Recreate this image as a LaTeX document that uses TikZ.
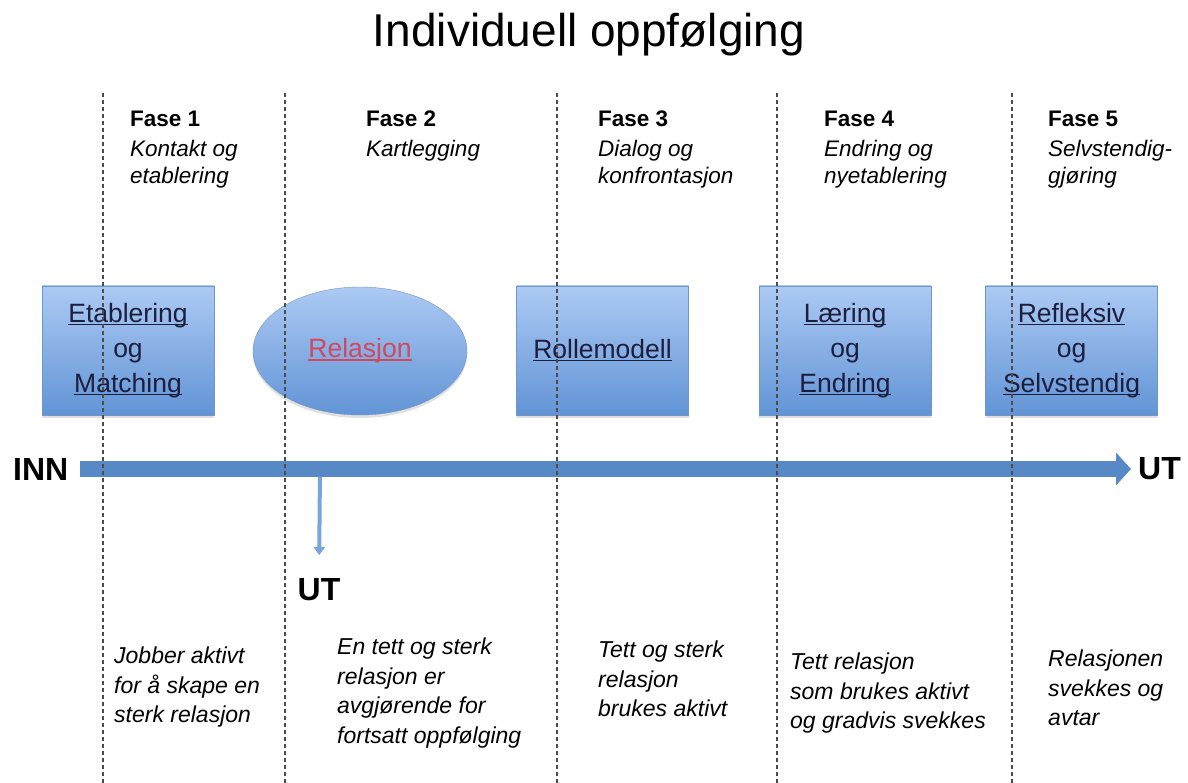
\documentclass[tikz,border=0pt]{standalone}
\usepackage{fontspec}
\setmainfont{Liberation Sans}
\usepackage{tikz}
\usetikzlibrary{arrows.meta,shapes.geometric,shadows}

\definecolor{boxtop}{RGB}{172,202,243}
\definecolor{boxbot}{RGB}{98,148,214}
\definecolor{boxline}{RGB}{112,150,200}
\definecolor{linkblue}{RGB}{28,30,62}
\definecolor{linkred}{RGB}{210,72,92}
\definecolor{flow}{RGB}{88,137,199}
\definecolor{exitflow}{RGB}{122,165,220}

\newsavebox{\lnkbox}
\newcommand{\lnk}[1]{\sbox{\lnkbox}{#1}\rlap{\rule[-0.1em]{\wd\lnkbox}{0.055em}}\usebox{\lnkbox}}

\begin{document}
\begin{tikzpicture}[x=1pt,y=-1pt,
  fase/.style={anchor=north west,inner sep=0pt,align=left,font=\fontsize{22.5}{26.5}\selectfont\itshape},
  note/.style={anchor=north west,inner sep=0pt,align=left,font=\fontsize{23}{29.5}\selectfont\itshape},
  stage/.style={draw=boxline,top color=boxtop,bottom color=boxbot,minimum width=172pt,minimum height=129pt,inner sep=0pt,align=center,text=linkblue,font=\fontsize{26.5}{35}\selectfont,drop shadow={opacity=0.25,shadow xshift=0pt,shadow yshift=-3pt}},
  io/.style={inner sep=0pt,font=\fontsize{32}{38}\selectfont\bfseries},
  mainflow/.style={line width=16pt,draw=flow,-{Triangle[length=15pt,width=32pt]}},
  exitarrow/.style={line width=4pt,draw=exitflow,-{Triangle[length=8pt,width=11pt]}},
  divider/.style={dash pattern=on 4pt off 3pt,line width=1.3pt,black!70}]

\useasboundingbox (0,0) rectangle (1188,783);

\node[font=\fontsize{46}{55}\selectfont,anchor=base] (title) at (589,47) {Individuell oppfølging};

% faser
\foreach \name/\x/\desc [count=\i] in {fase1/130/{Kontakt og\\etablering}, fase2/366/{Kartlegging}, fase3/598/{Dialog og\\konfrontasjon}, fase4/824/{Endring og\\nyetablering}, fase5/1048/{Selvstendig-\\gjøring}}
\node[fase] (\name) at (\x,111) {\textup{\textbf{Fase \i}}\\[3.5pt]\desc};

% boksene
\node[stage] (etab) at (128,350.5) {\lnk{Etablering}\\og\\\lnk{Matching}};
\node[stage,ellipse,minimum width=214pt,minimum height=128pt] (rel) at (360,351) {\textcolor{linkred}{\lnk{Relasjon}}};
\node[stage] (rolle) at (602.5,350.5) {\lnk{Rollemodell}};
\node[stage] (laering) at (845,350.5) {\lnk{Læring}\\og\\\lnk{Endring}};
\node[stage] (refl) at (1071.5,350.5) {\lnk{Refleksiv}\\og\\\lnk{Selvstendig}};

% inn og ut
\node[io,anchor=west] (inn) at (13,469) {INN};
\node[io,anchor=west] (utr) at (1138,469) {UT};
\node[io] (utd) at (319,590) {UT};
\coordinate (split) at (320,470);

\draw[exitarrow,shorten >=23.5pt] (split) -- (utd.north);
\draw[mainflow] ([xshift=11pt]inn.east) -- ([xshift=-7pt]utr.west);

% tekst nederst
\foreach \name/\x/\y/\desc in {note1/114/647/{Jobber aktivt\\for å skape en\\sterk relasjon}, note2/337/638/{En tett og sterk\\relasjon er\\avgjørende for\\fortsatt oppfølging}, note3/598/641/{Tett og sterk\\relasjon\\brukes aktivt}, note4/790/653/{Tett relasjon\\som brukes aktivt\\og gradvis svekkes}, note5/1048/650/{Relasjonen\\svekkes og\\avtar}}
\node[note] (\name) at (\x,\y) {\desc};

\foreach \x in {103,285,557,777,1012}
\draw[divider] (\x,93) -- (\x,783);

\end{tikzpicture}
\end{document}
